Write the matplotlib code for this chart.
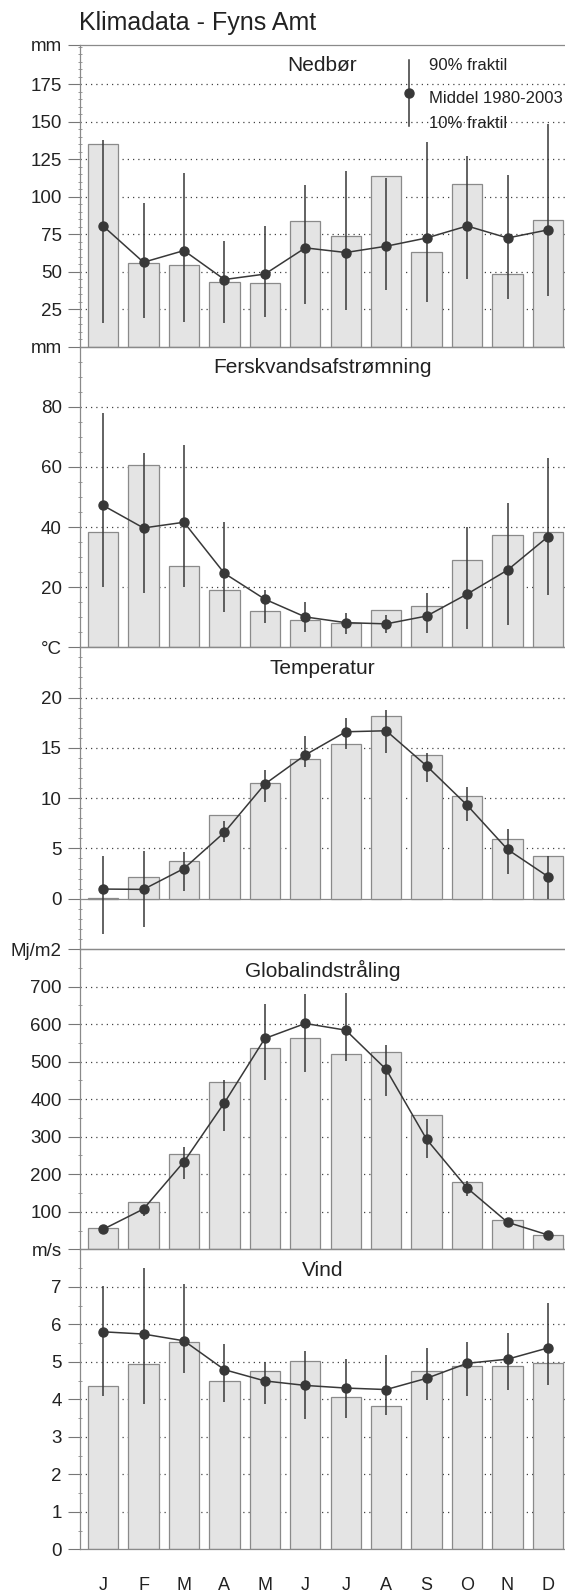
import numpy as np
import matplotlib
matplotlib.use("Agg")
import matplotlib.pyplot as plt
from matplotlib.ticker import MultipleLocator

plt.rcParams['font.family'] = ['Liberation Sans', 'DejaVu Sans']

months = ['J', 'F', 'M', 'A', 'M', 'J', 'J', 'A', 'S', 'O', 'N', 'D']

# Nedbør (mm)
nedboer_bar = [135.3, 55.5, 54.8, 43.3, 42.6, 84.1, 74.1, 114.0, 63.4, 108.5, 48.8, 84.3]
nedboer_mid = [80.5, 56.3, 64.1, 44.8, 48.4, 65.9, 62.8, 67.0, 72.5, 80.5, 72.5, 77.9]
nedboer_p90 = [137.5, 95.8, 115.8, 70.5, 80.3, 108.0, 116.9, 112.5, 136.2, 127.1, 114.2, 148.6]
nedboer_p10 = [15.5, 19.3, 16.6, 15.5, 20.0, 28.4, 24.8, 37.7, 29.5, 45.0, 31.5, 33.9]

# Ferskvandsafstrømning (mm)
afstr_bar = [38.3, 60.7, 27.1, 18.9, 12.0, 9.0, 8.2, 12.4, 13.7, 29.1, 37.3, 38.3]
afstr_mid = [47.2, 39.7, 41.6, 24.6, 16.0, 10.1, 8.2, 7.8, 10.4, 17.7, 25.7, 36.8]
afstr_p90 = [77.8, 64.7, 67.4, 41.6, 19.1, 15.0, 11.3, 10.7, 18.0, 39.9, 48.1, 63.0]
afstr_p10 = [19.9, 18.2, 19.9, 11.9, 8.2, 5.2, 4.3, 4.7, 4.7, 6.2, 7.4, 17.4]

# Temperatur (°C)
temp_bar = [0.1, 2.2, 3.8, 8.3, 11.5, 13.9, 15.4, 18.2, 14.3, 10.2, 5.9, 4.2]
temp_mid = [0.96, 0.93, 3.0, 6.6, 11.4, 14.3, 16.6, 16.7, 13.2, 9.3, 4.9, 2.2]
temp_p90 = [4.2, 4.7, 4.6, 7.7, 12.8, 16.2, 18.0, 18.8, 14.5, 11.1, 6.9, 4.2]
temp_p10 = [-3.5, -2.8, 0.8, 5.6, 9.6, 13.1, 14.9, 14.5, 11.6, 7.7, 2.5, 0.0]

# Globalindstråling (Mj/m2)
glob_bar = [55.9, 125.1, 252.9, 444.5, 535.0, 561.7, 520.0, 525.3, 358.5, 180.1, 77.2, 39.0]
glob_mid = [53.2, 107.4, 233.4, 390.4, 561.7, 601.6, 583.8, 479.2, 292.8, 163.3, 71.9, 38.2]
glob_p90 = [58.0, 118.0, 273.3, 450.8, 654.8, 678.8, 683.2, 543.9, 347.0, 182.8, 82.5, 41.0]
glob_p10 = [50.0, 90.0, 187.2, 315.0, 450.8, 473.0, 502.0, 408.2, 244.0, 142.9, 58.6, 35.0]

# Vind (m/s)
vind_bar = [4.36, 4.95, 5.53, 4.48, 4.75, 5.03, 4.07, 3.83, 4.76, 4.90, 4.88, 4.98]
vind_mid = [5.80, 5.74, 5.56, 4.79, 4.49, 4.37, 4.30, 4.26, 4.56, 4.96, 5.07, 5.37]
vind_p90 = [7.02, 7.49, 7.07, 5.47, 4.99, 5.29, 5.08, 5.19, 5.38, 5.53, 5.78, 6.58]
vind_p10 = [4.08, 3.88, 4.69, 3.93, 3.88, 3.47, 3.51, 3.58, 3.98, 4.08, 4.26, 4.37]

panels = [
    dict(title='Nedbør', bar=nedboer_bar, mid=nedboer_mid, p90=nedboer_p90, p10=nedboer_p10,
         ylim=(0, 201.5), grid=[25, 50, 75, 100, 125, 150, 175], unit='mm', minor=5),
    dict(title='Ferskvandsafstrømning', bar=afstr_bar, mid=afstr_mid, p90=afstr_p90, p10=afstr_p10,
         ylim=(0, 100), grid=[20, 40, 60, 80], unit='mm', minor=5),
    dict(title='Temperatur', bar=temp_bar, mid=temp_mid, p90=temp_p90, p10=temp_p10,
         ylim=(-5, 25), grid=[5, 10, 15, 20], unit='°C', minor=1, zero=True),
    dict(title='Globalindstråling', bar=glob_bar, mid=glob_mid, p90=glob_p90, p10=glob_p10,
         ylim=(0, 800), grid=[100, 200, 300, 400, 500, 600, 700], unit='Mj/m2', minor=50),
    dict(title='Vind', bar=vind_bar, mid=vind_mid, p90=vind_p90, p10=vind_p10,
         ylim=(0, 8), grid=[1, 2, 3, 4, 5, 6, 7], unit='m/s', minor=0.5, zero=True),
]

W, H = 565, 1596
edges = [44.5, 346.7, 647.3, 949.0, 1249.3, 1549.3]
left = 80 / W

fig = plt.figure(figsize=(W / 100, H / 100), dpi=100)
fig.patch.set_facecolor('white')

x = np.arange(12)
dark = '#383838'
axes = []
for i, p in enumerate(panels):
    top, bot = edges[i], edges[i + 1]
    ax = fig.add_axes([left, 1 - bot / H, 1 - left, (bot - top) / H])
    axes.append(ax)
    ax.set_xlim(-0.57, 11.42)
    ax.set_ylim(*p['ylim'])

    for g in p['grid']:
        ax.axhline(g, color='#444444', lw=0.9, ls=(0, (1, 3.2)), zorder=0)

    ax.bar(x, p['bar'], width=0.75, color='#e4e4e4', edgecolor='#8a8a8a', linewidth=0.9, zorder=2)
    if i == 2:
        ax.axhline(0, color='#8a8a8a', lw=0.9, zorder=1)
    ax.vlines(x, p['p10'], p['p90'], color=dark, lw=1.1, zorder=3)
    ax.plot(x, p['mid'], color=dark, lw=1.1, marker='o', ms=6.5, mfc=dark, mec=dark, zorder=4)

    ax.text(0.5, 0.93, p['title'], transform=ax.transAxes, ha='center', va='center',
            fontsize=15, color='#222222')

    # y ticks: numbers plus the unit at the top edge
    ticks = ([0] if p.get('zero') else []) + p['grid'] + [p['ylim'][1]]
    labels = [('%g' % t) for t in ticks[:-1]] + [p['unit']]
    ax.set_yticks(ticks)
    ax.set_yticklabels(labels)
    ax.yaxis.set_minor_locator(MultipleLocator(p['minor']))
    ax.tick_params(axis='y', which='major', direction='out', length=9, width=0.8,
                   color='#777777', pad=4, labelsize=13.5, labelcolor='#222222')
    ax.tick_params(axis='y', which='minor', direction='inout', length=3, width=0.7,
                   color='#999999')

    ax.spines['right'].set_visible(False)
    for s in ['left', 'top', 'bottom']:
        ax.spines[s].set_color('#8a8a8a')
        ax.spines[s].set_linewidth(0.9)
    ax.set_facecolor('none')

    if i < len(panels) - 1:
        ax.set_xticks([])
    else:
        ax.set_xticks(x)
        ax.set_xticklabels(months)
        ax.tick_params(axis='x', length=0, pad=20, labelsize=13, labelcolor='#222222')

# legend glyph in the precipitation panel
ax0 = axes[0]
ax0.plot([0.678, 0.678], [0.730, 0.948], transform=ax0.transAxes, color=dark, lw=1.1)
ax0.plot([0.678], [0.839], transform=ax0.transAxes, marker='o', ms=6.5, color=dark)
ax0.text(0.719, 0.930, '90% fraktil', transform=ax0.transAxes, va='center', fontsize=12, color='#222222')
ax0.text(0.719, 0.820, 'Middel 1980-2003', transform=ax0.transAxes, va='center', fontsize=12, color='#222222')
ax0.text(0.719, 0.740, '10% fraktil', transform=ax0.transAxes, va='center', fontsize=12, color='#222222')

fig.text(79 / W, 1 - 23 / H, 'Klimadata - Fyns Amt', ha='left', va='center', fontsize=18, color='#222222')

fig.savefig('out.png', dpi=100)
